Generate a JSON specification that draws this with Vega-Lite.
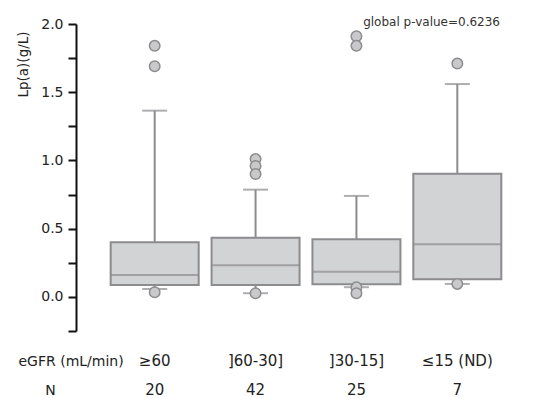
{
  "$schema": "https://vega.github.io/schema/vega-lite/v6.json",
  "autosize": {"type": "none"},
  "padding": {"left": 76, "top": 24, "right": 0, "bottom": 67},
  "width": 460,
  "height": 307,
  "background": "white",
  "config": {
    "view": {"stroke": null},
    "font": "DejaVu Sans"
  },
  "title": {
    "text": "global p-value=0.6236",
    "anchor": "end",
    "frame": "group",
    "dx": -36,
    "dy": 21,
    "offset": 0,
    "baseline": "alphabetic",
    "fontSize": 12,
    "fontWeight": "normal",
    "color": "#333333",
    "font": "DejaVu Sans"
  },
  "datasets": {
    "boxes": [
      {"group": "≥60", "n": "20", "lower": 0.058, "q1": 0.088, "median": 0.16, "q3": 0.40, "upper": 1.365},
      {"group": "]60-30]", "n": "42", "lower": 0.027, "q1": 0.088, "median": 0.232, "q3": 0.434, "upper": 0.786},
      {"group": "]30-15]", "n": "25", "lower": 0.071, "q1": 0.093, "median": 0.185, "q3": 0.423, "upper": 0.74},
      {"group": "≤15 (ND)", "n": "7", "lower": 0.095, "q1": 0.13, "median": 0.386, "q3": 0.903, "upper": 1.56}
    ],
    "outliers": [
      {"group": "≥60", "value": 1.84},
      {"group": "≥60", "value": 1.69},
      {"group": "≥60", "value": 0.034},
      {"group": "]60-30]", "value": 1.01},
      {"group": "]60-30]", "value": 0.96},
      {"group": "]60-30]", "value": 0.90},
      {"group": "]60-30]", "value": 0.027},
      {"group": "]30-15]", "value": 1.91},
      {"group": "]30-15]", "value": 1.84},
      {"group": "]30-15]", "value": 0.07},
      {"group": "]30-15]", "value": 0.027},
      {"group": "≤15 (ND)", "value": 1.71},
      {"group": "≤15 (ND)", "value": 0.095}
    ],
    "zero": [{"y": 0}]
  },
  "layer": [
    {
      "data": {"name": "zero"},
      "mark": {"type": "rule", "color": "#333333", "strokeWidth": 1, "strokeDash": [1.5, 1.5]},
      "encoding": {
        "y": {"field": "y", "type": "quantitative"}
      }
    },
    {
      "data": {"name": "boxes"},
      "mark": {"type": "rule", "color": "#8c8c8e", "strokeWidth": 2},
      "encoding": {
        "x": {"field": "group", "type": "nominal"},
        "y": {"field": "lower", "type": "quantitative"},
        "y2": {"field": "upper"}
      }
    },
    {
      "data": {"name": "boxes"},
      "mark": {"type": "tick", "color": "#8c8c8e", "size": 25, "thickness": 2},
      "encoding": {
        "x": {"field": "group", "type": "nominal"},
        "y": {"field": "upper", "type": "quantitative"}
      }
    },
    {
      "data": {"name": "boxes"},
      "mark": {"type": "tick", "color": "#8c8c8e", "size": 25, "thickness": 2},
      "encoding": {
        "x": {"field": "group", "type": "nominal"},
        "y": {"field": "lower", "type": "quantitative"}
      }
    },
    {
      "data": {"name": "boxes"},
      "mark": {"type": "bar", "width": 88, "fill": "#d2d3d5", "stroke": "#8c8c8e", "strokeWidth": 2},
      "encoding": {
        "x": {"field": "group", "type": "nominal"},
        "y": {"field": "q1", "type": "quantitative"},
        "y2": {"field": "q3"}
      }
    },
    {
      "data": {"name": "boxes"},
      "mark": {"type": "tick", "color": "#8c8c8e", "size": 88, "thickness": 2},
      "encoding": {
        "x": {"field": "group", "type": "nominal"},
        "y": {"field": "median", "type": "quantitative"}
      }
    },
    {
      "data": {"name": "outliers"},
      "mark": {"type": "point", "shape": "circle", "filled": true, "fill": "#c9c9cb", "stroke": "#8c8c8e", "strokeWidth": 1.5, "size": 110, "opacity": 1},
      "encoding": {
        "x": {"field": "group", "type": "nominal"},
        "y": {"field": "value", "type": "quantitative"}
      }
    }
  ],
  "encoding": {
    "x": {
      "field": "group",
      "type": "nominal",
      "sort": ["≥60", "]60-30]", "]30-15]", "≤15 (ND)"],
      "scale": {"domain": ["≥60", "]60-30]", "]30-15]", "≤15 (ND)"], "paddingInner": 0, "paddingOuter": 0.28},
      "axis": {
        "domain": false,
        "ticks": false,
        "labelAngle": 0,
        "labelFontSize": 15,
        "labelColor": "#222222",
        "labelBaseline": "alphabetic",
        "labelPadding": 34,
        "labelLineHeight": 29,
        "labelExpr": "[datum.label, datum.label == '≥60' ? '20' : datum.label == ']60-30]' ? '42' : datum.label == ']30-15]' ? '25' : '7']",
        "title": ["eGFR (mL/min)", "\u200b\u00a0\u00a0\u00a0\u00a0\u00a0\u00a0N"],
        "titleFontSize": 14,
        "titleFontWeight": "normal",
        "titleColor": "#222222",
        "titleAlign": "left",
        "titleBaseline": "alphabetic",
        "titleLineHeight": 29,
        "titleX": -58,
        "titleY": 34,
        "labelOverlap": false
      }
    },
    "y": {
      "type": "quantitative",
      "scale": {"domain": [-0.25, 2.0], "nice": false, "zero": false},
      "axis": {
        "values": [-0.25, 0, 0.25, 0.5, 0.75, 1.0, 1.25, 1.5, 1.75, 2.0],
        "labelExpr": "datum.value >= 0 && abs(datum.value * 2 - round(datum.value * 2)) < 0.001 ? format(datum.value, '.1f') : ''",
        "grid": false,
        "domainColor": "#111111",
        "domainWidth": 2,
        "tickColor": "#111111",
        "tickWidth": 2,
        "tickSize": 8,
        "labelFontSize": 14,
        "labelColor": "#222222",
        "labelPadding": 5,
        "title": "Lp(a)(g/L)",
        "titleFontSize": 13.5,
        "titleFontWeight": "normal",
        "titleColor": "#222222",
        "titleAngle": -90,
        "titleAlign": "center",
        "titleBaseline": "alphabetic",
        "titleX": -49,
        "titleY": 40
      }
    }
  }
}
